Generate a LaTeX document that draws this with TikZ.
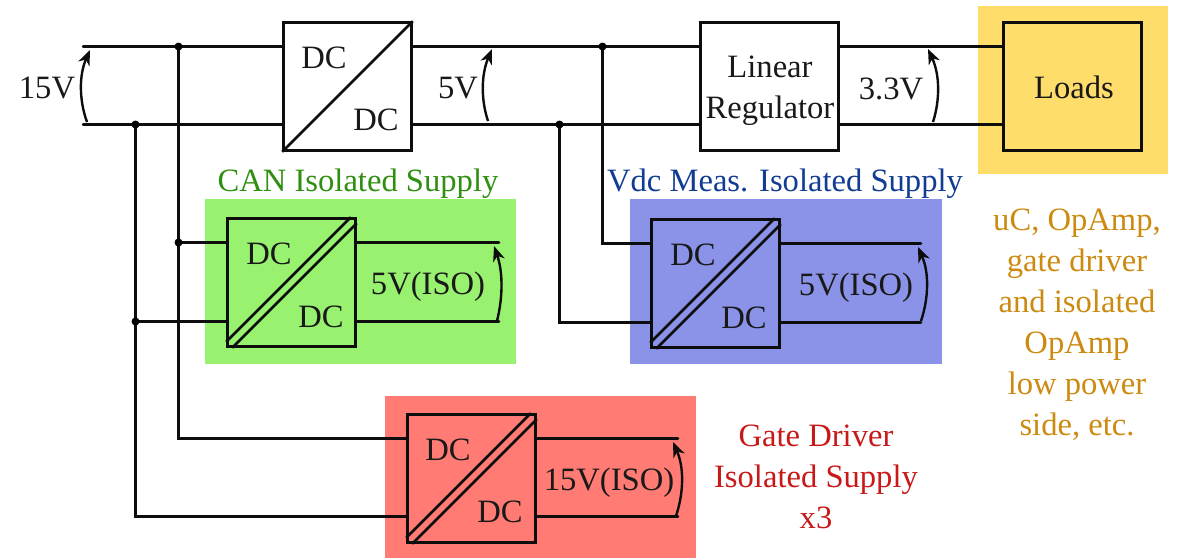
\documentclass[tikz,border=0pt]{standalone}
\usepackage{fontspec}
\setmainfont{Liberation Serif}
\usetikzlibrary{arrows.meta}
\definecolor{cgreen}{HTML}{99F26F}
\definecolor{cblue}{HTML}{8B93E8}
\definecolor{cred}{HTML}{FF7B73}
\definecolor{cyellow}{HTML}{FFDD6B}
\definecolor{tgreen}{HTML}{2F8F10}
\definecolor{tblue}{HTML}{123C94}
\definecolor{tred}{HTML}{C81818}
\definecolor{torange}{HTML}{CC8A10}
\tikzset{
  wire/.style={line width=2.5pt,line cap=round,black!95},
  boxed/.style={draw=black!95,line width=2.6pt,inner sep=0pt,minimum width=#1,minimum height=128pt},
  boxed/.default=128pt,
  lbl/.style={inner sep=0pt,font=\fontsize{32.6}{40}\selectfont,text=black!90},
  capt/.style={inner sep=0pt,font=\fontsize{32.6}{41}\selectfont,align=center},
  band/.style={inner sep=0pt,outer sep=0pt},
  volt/.style={line width=2.4pt,-{Stealth[length=15pt,width=12pt,inset=4.5pt]},black!95},
  dot/.style={circle,fill=black,inner sep=0pt,minimum size=8pt},
}
\begin{document}
\begin{tikzpicture}[x=1pt,y=-1pt]
\useasboundingbox (0,0) rectangle (1184,558);
% colour bands
\node[band,fill=cyellow,minimum width=190pt,minimum height=168pt] (byel) at (1073,90) {};
\node[band,fill=cgreen,minimum width=311pt,minimum height=165pt] (bgrn) at (360.5,281.5) {};
\node[band,fill=cblue,minimum width=312pt,minimum height=165pt] (bblu) at (786,281.5) {};
\path[fill=cred] (384.5,395.5) rectangle (695.5,558);
% boxes
\node[boxed] (main) at (347.5,86.5) {};
\node[boxed,minimum width=138pt] (reg) at (769.5,86.5) {};
\node[boxed,minimum width=138pt] (load) at (1072.5,86.5) {};
\node[boxed] (can) at (291.5,282.5) {};
\node[boxed] (vdc) at (715.5,283.5) {};
\node[boxed] (gate) at (471.5,478.5) {};
% diagonals
\draw[wire,line cap=butt] (main.south west) -- (main.north east);
\foreach \b in {can,vdc,gate}{
  \draw[wire,line cap=butt] ([yshift=6pt]\b.south west) -- ([xshift=-6pt]\b.north east);
  \draw[wire,line cap=butt] ([xshift=6pt]\b.south west) -- ([yshift=-6pt]\b.north east);
}
% rails
\coordinate (t0) at (83,46.5);
\coordinate (b0) at (83,124.5);
\coordinate (jt1) at (178.5,46.5);
\coordinate (jb1) at (135.5,124.5);
\coordinate (jt2) at (602.5,46.5);
\coordinate (jb2) at (559.5,124.5);
\coordinate (jc1) at (178.5,242.5);
\coordinate (jc2) at (135.5,321.5);
\coordinate (ct) at (499,242.5);
\coordinate (cb) at (499,321.5);
\coordinate (vt) at (921,243.5);
\coordinate (vb) at (921,322.5);
\coordinate (gt) at (678,438.5);
\coordinate (gb) at (678,516.5);
\draw[wire] (t0) -- (t0-|main.west);
\draw[wire] (b0) -- (b0-|main.west);
\draw[wire] (t0-|main.east) -- (t0-|reg.west);
\draw[wire] (b0-|main.east) -- (b0-|reg.west);
\draw[wire] (t0-|reg.east) -- (t0-|load.west);
\draw[wire] (b0-|reg.east) -- (b0-|load.west);
\draw[wire] (jt1) -- (jt1|-gt) -- (gt-|gate.west);
\draw[wire] (jb1) -- (jb1|-gb) -- (gb-|gate.west);
\draw[wire] (jc1) -- (jc1-|can.west);
\draw[wire] (jc2) -- (jc2-|can.west);
\draw[wire] (jt2) -- (jt2|-vt) -- (vt-|vdc.west);
\draw[wire] (jb2) -- (jb2|-vb) -- (vb-|vdc.west);
\draw[wire] (ct) -- (ct-|can.east);
\draw[wire] (cb) -- (cb-|can.east);
\draw[wire] (vt) -- (vt-|vdc.east);
\draw[wire] (vb) -- (vb-|vdc.east);
\draw[wire] (gt) -- (gt-|gate.east);
\draw[wire] (gb) -- (gb-|gate.east);
% junctions
\foreach \j/\n in {jt1/d1,jb1/d2,jt2/d3,jb2/d4,jc1/d5,jc2/d6}
  \node[dot] (\n) at (\j) {};
% voltage arrows
\coordinate (a1s) at (87,122); \coordinate (a1e) at (90,50);
\coordinate (a2s) at (488,121); \coordinate (a2e) at (492,49);
\coordinate (a3s) at (933,122); \coordinate (a3e) at (928,49);
\coordinate (a4s) at (497,321); \coordinate (a4e) at (494,246);
\coordinate (a5s) at (921,321); \coordinate (a5e) at (918,247);
\coordinate (a6s) at (676,516); \coordinate (a6e) at (673,442);
\draw[volt] (a1s) .. controls (79,100) and (79,75) .. (a1e);
\draw[volt] (a2s) .. controls (481,100) and (481,75) .. (a2e);
\draw[volt] (a3s) .. controls (940,100) and (940,75) .. (a3e);
\draw[volt] (a4s) .. controls (503,297) and (503,272) .. (a4e);
\draw[volt] (a5s) .. controls (929,297) and (929,272) .. (a5e);
\draw[volt] (a6s) .. controls (684,492) and (684,467) .. (a6e);
% labels
\node[lbl,anchor=base] (l15) at (47,98) {15V};
\node[lbl,anchor=base] (ld1) at (324,68) {DC};
\node[lbl,anchor=base] (ld2) at (376,130) {DC};
\node[lbl,anchor=base] (l5) at (458,98) {5V};
\node[lbl,anchor=base] (lr1) at (770,77) {Linear};
\node[lbl,anchor=base] (lr2) at (770,118) {Regulator};
\node[lbl,anchor=base] (l33) at (891,99) {3.3V};
\node[lbl,anchor=base] (ll) at (1074,98) {Loads};
\node[capt,anchor=base,text=tgreen] (tcan) at (358,191) {CAN Isolated Supply};
\node[capt,anchor=base,text=tblue] (tvdc) at (785,191) {Vdc Meas. Isolated Supply};
\node[lbl,anchor=base] (c1) at (269,264) {DC};
\node[lbl,anchor=base] (c2) at (321,327) {DC};
\node[lbl,anchor=base] (c3) at (428,294) {5V(ISO)};
\node[lbl,anchor=base] (v1) at (693,265) {DC};
\node[lbl,anchor=base] (v2) at (744,328) {DC};
\node[lbl,anchor=base] (v3) at (856,295) {5V(ISO)};
\node[lbl,anchor=base] (g1) at (448,460) {DC};
\node[lbl,anchor=base] (g2) at (500,522) {DC};
\node[lbl,anchor=base] (g3) at (609,490) {15V(ISO)};
\node[capt,text=tred] (tgate) at (816,477) {Gate Driver\\Isolated Supply\\x3};
\node[capt,text=torange] (tload) at (1077,325) {uC, OpAmp,\\gate driver\\and isolated\\OpAmp\\low power\\side, etc.};
\end{tikzpicture}
\end{document}
